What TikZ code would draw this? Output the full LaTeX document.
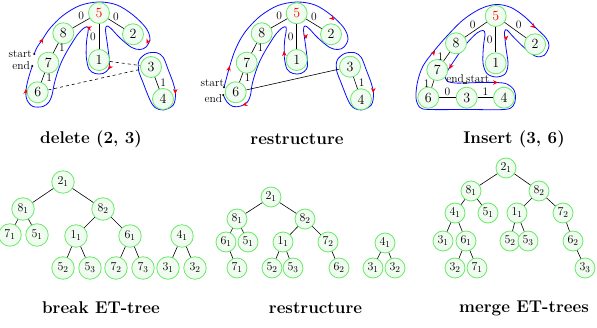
\documentclass[tikz,border=0pt]{standalone}
\usetikzlibrary{positioning}
\usetikzlibrary{arrows.meta}
\definecolor{ngreen}{RGB}{105,235,105}
\definecolor{nfill}{RGB}{240,252,240}
\definecolor{tourblue}{RGB}{10,10,255}
\tikzset{
    vnode/.style = {circle, draw=ngreen, line width=0.8pt, fill=nfill, minimum size=21pt, inner sep=0pt, font=\fontsize{14}{14}\selectfont, text=black},
    tnode/.style = {circle, draw=ngreen, line width=0.8pt, fill=nfill, minimum size=20pt, inner sep=0pt, font=\fontsize{12.5}{13}\selectfont, text=black},
    tnodel/.style = {tnode, minimum size=22.5pt},
    edgen/.style = {-, black, line width=0.6pt},
    edged/.style = {-, black, line width=0.6pt, dashed}, % removed
    elabel/.style = {inner sep=1pt, font=\fontsize{11.5}{12}\selectfont},
    slabel/.style = {inner sep=1pt, font=\fontsize{11.5}{12}\selectfont},
    tour/.style = {tourblue, line width=0.8pt, smooth, tension=0.55},
    tourtip/.style = {red, line width=0.6pt, -{Stealth[length=5pt, width=4.5pt]}},
    tdot/.style = {circle, fill=black, inner sep=0pt, minimum size=2.2pt},
    caption/.style = {font=\fontsize{17}{20}\selectfont\bfseries}
}
\begin{document}
\begin{tikzpicture}[x=1pt, y=-1pt]
\useasboundingbox (0,0) rectangle (597,328);
% delete (2, 3)
\draw[tour] plot coordinates {(34.3,54) (36.7,48) (42.7,39) (50,28.3) (63,15.5) (80,5.5) (99,2) (117,5) (133,15) (146,28) (150,39) (146,47) (140,49.5) (131.7,47.5) (120,38) (111,28.5) (107,26) (105.5,30) (107.5,45) (109.5,62) (108.5,69) (103,73.5) (95,73.5) (89,69) (86.3,57) (86.5,42) (88,32) (88,27) (84,28) (78,34) (72,43) (66,53) (61,63) (57,74) (54,85) (52,95) (49,102) (43,106.5) (33,106.5) (27,100) (25.8,92) (27.5,82) (30,73) (32.3,66)};
\draw[tour] plot[smooth cycle] coordinates {(139.3,60) (146.7,53.5) (156.7,52.7) (163.3,57.5) (168.3,70) (173.3,83.3) (175.5,94) (173.3,105) (163.3,110) (155,107.5) (150,100) (143.3,83.3) (138.5,70)};
\draw[tourtip] (42.7,39.3) -- ++(0.54,-0.84);
\draw[tourtip] (147,43) -- ++(-0.45,0.9);
\draw[tourtip] (109,68.5) -- ++(-0.6,0.8);
\draw[tourtip] (87.5,27.3) -- ++(-0.9,-0.3);
\draw[tourtip] (26,90) -- ++(0.1,-1);
\draw[tourtip] (175.3,93) -- ++(0,1);
\node[vnode] at (99.0, 13.0) (a5) {\textcolor{red}{5}};
\node[vnode] at (63.3, 33.3) (a8) {8};
\node[vnode] at (133.0, 34.3) (a2) {2};
\node[vnode] at (99.0, 60.0) (a1) {1};
\node[vnode] at (48.3, 62.7) (a7) {7};
\node[vnode] at (37.7, 92.3) (a6) {6};
\node[vnode] at (151.0, 67.0) (a3) {3};
\node[vnode] at (163.0, 99.0) (a4) {4};
\node[tdot] at (34.3, 54.0) (s1) {};
\node[tdot] at (32.3, 66.0) (e1) {};
\node[slabel, left=0pt of s1] (ls1) {start};
\node[slabel, left=0pt of e1] (le1) {end};
%
\draw[edgen] (a5) edge node[elabel, above=2pt] {0} (a8);
\draw[edgen] (a5) edge node[elabel, above=2pt] {0} (a2);
\draw[edgen] (a5) edge node[elabel, left=2pt] {0} (a1);
\draw[edgen] (a8) edge node[elabel, right=2pt] {1} (a7);
\draw[edgen] (a7) edge node[elabel, right=2pt] {1} (a6);
\draw[edgen] (a3) edge node[elabel, right=2pt] {1} (a4);
\draw[edged] (a1) edge node {} (a3);
\draw[edged] (a6) edge node {} (a3);
% restructure
\draw[tour] plot coordinates {(224,87.3) (226.5,78) (229.5,67) (234,53) (240,40) (248,28.3) (261,15.5) (278,5.5) (297,2) (315,5) (331,15) (344,28) (348,39) (344,47) (338,49.5) (329.7,47.5) (318,38) (309,28.5) (305,26) (303.5,30) (305.5,45) (307.5,62) (306.5,69) (301,73.5) (293,73.5) (287,69) (284.3,57) (284.5,42) (286,32) (286,27) (282,28) (276,34) (270,43) (264,53) (259,63) (255,74) (252,85) (250.5,95) (247.5,102) (241,106) (233,106.5) (227,102) (223.3,95)};
\draw[tour] plot[smooth cycle] coordinates {(337.3,60) (344.7,53.5) (354.7,52.7) (361.3,57.5) (366.3,70) (371.3,83.3) (373.5,94) (371.3,105) (361.3,110) (353,107.5) (348,100) (341.3,83.3) (336.5,70)};
\draw[tourtip] (229.5,67) -- ++(0.27,-0.96);
\draw[tourtip] (333.5,19.5) -- ++(0.7,0.7);
\draw[tourtip] (306,38) -- ++(0.1,1);
\draw[tourtip] (284.3,52) -- ++(0,-1);
\draw[tourtip] (243.5,104.8) -- ++(-1,0.25);
\draw[tourtip] (373.3,92) -- ++(0,1);
\node[vnode] at (296.7, 13.3) (b5) {\textcolor{red}{5}};
\node[vnode] at (261.7, 33.3) (b8) {8};
\node[vnode] at (331.0, 34.3) (b2) {2};
\node[vnode] at (296.7, 60.0) (b1) {1};
\node[vnode] at (246.7, 62.7) (b7) {7};
\node[vnode] at (235.7, 92.3) (b6) {6};
\node[vnode] at (350.0, 66.7) (b3) {3};
\node[vnode] at (361.0, 99.3) (b4) {4};
\node[tdot] at (224.0, 87.3) (s2) {};
\node[tdot] at (223.3, 95.0) (e2) {};
\node[slabel, above left=-1pt and -2pt of s2] (ls2) {start};
\node[slabel, below left=-3pt and -1pt of e2] (le2) {end};
%
\draw[edgen] (b5) edge node[elabel, above=2pt] {0} (b8);
\draw[edgen] (b5) edge node[elabel, above=2pt] {0} (b2);
\draw[edgen] (b5) edge node[elabel, left=2pt] {0} (b1);
\draw[edgen] (b8) edge node[elabel, right=2pt] {1} (b7);
\draw[edgen] (b7) edge node[elabel, right=2pt] {1} (b6);
\draw[edgen] (b3) edge node[elabel, right=2pt] {1} (b4);
\draw[edgen] (b6) edge node {} (b3);
% Insert (3, 6)
\draw[tour] plot coordinates {(466,83) (480,82.5) (496,82.5) (507,84) (514,90) (515.5,98) (513,106) (504,109.5) (467,109.5) (430,109.5) (420,107.5) (416,98) (417.5,82) (423,66) (434,51) (447,36) (463,20) (480,9) (496,4.5) (511,7.5) (525,17) (536,28) (546,38) (549,46) (544,55.5) (535,56) (523,46.5) (512,35.5) (507,30) (504.5,32) (506,48) (508,64) (505,74) (496,77) (487,73.5) (483,63) (483.5,46) (485,34) (483,30.5) (477,33) (467,43) (458,55) (450,67) (445.5,75) (447,81) (455,83) (464,83)};
\draw[tourtip] (497,82.5) -- ++(1,0);
\draw[tourtip] (434.5,51.5) -- ++(0.6,-0.8);
\draw[tourtip] (534.5,27.5) -- ++(0.7,0.7);
\draw[tourtip] (506.2,39.5) -- ++(0.05,1);
\draw[tourtip] (450,68) -- ++(-0.45,0.9);
\node[vnode] at (495.7, 16.0) (c5) {\textcolor{red}{5}};
\node[vnode] at (456.0, 43.3) (c8) {8};
\node[vnode] at (535.0, 44.3) (c2) {2};
\node[vnode] at (495.7, 63.3) (c1) {1};
\node[vnode] at (437.3, 70.0) (c7) {7};
\node[vnode] at (428.3, 97.7) (c6) {6};
\node[vnode] at (466.7, 97.7) (c3) {3};
\node[vnode] at (504.0, 97.7) (c4) {4};
\node[tdot] at (464.0, 83.0) (e3) {};
\node[tdot] at (466.0, 83.0) (s3) {};
\node[slabel, above left=-2pt and -2pt of e3] (le3) {end};
\node[slabel, above right=-2pt and -2pt of s3] (ls3) {start};
%
\draw[edgen] (c5) edge node[elabel, pos=0.65, above=2pt] {0} (c8);
\draw[edgen] (c5) edge node[elabel, pos=0.65, above=2pt] {0} (c2);
\draw[edgen] (c5) edge node[elabel, left=2pt] {0} (c1);
\draw[edgen] (c8) edge node[elabel, left=2pt] {1} (c7);
\draw[edgen] (c7) edge node[elabel, left=2pt] {1} (c6);
\draw[edgen] (c6) edge node[elabel, above=1pt] {0} (c3);
\draw[edgen] (c3) edge node[elabel, above=1pt] {1} (c4);
% break ET-tree
\node[tnodel] at (63.0, 182.0) (l21) {$2_1$};
\node[tnodel] at (23.0, 209.0) (l81) {$8_1$};
\node[tnodel] at (103.0, 209.0) (l82) {$8_2$};
\node[tnodel] at (10.0, 235.0) (l71) {$7_1$};
\node[tnodel] at (37.0, 235.0) (l51) {$5_1$};
\node[tnodel] at (76.0, 236.0) (l11) {$1_1$};
\node[tnodel] at (130.0, 236.0) (l61) {$6_1$};
\node[tnodel] at (63.0, 268.0) (l52) {$5_2$};
\node[tnodel] at (90.0, 268.0) (l53) {$5_3$};
\node[tnodel] at (116.0, 268.0) (l72) {$7_2$};
\node[tnodel] at (143.0, 268.0) (l73) {$7_3$};
\node[tnodel] at (182.0, 236.0) (l41) {$4_1$};
\node[tnodel] at (168.0, 268.0) (l31) {$3_1$};
\node[tnodel] at (195.0, 268.0) (l32) {$3_2$};
\draw[edgen] (l21) edge (l81) edge (l82);
\draw[edgen] (l81) edge (l71) edge (l51);
\draw[edgen] (l82) edge (l11) edge (l61);
\draw[edgen] (l11) edge (l52) edge (l53);
\draw[edgen] (l61) edge (l72) edge (l73);
\draw[edgen] (l41) edge (l31) edge (l32);
% restructure
\node[tnode] at (271.0, 197.0) (m21) {$2_1$};
\node[tnode] at (237.0, 219.0) (m81) {$8_1$};
\node[tnode] at (305.0, 219.0) (m82) {$8_2$};
\node[tnode] at (226.0, 242.0) (m61) {$6_1$};
\node[tnode] at (248.0, 242.0) (m51) {$5_1$};
\node[tnode] at (283.0, 242.0) (m11) {$1_1$};
\node[tnode] at (328.0, 242.0) (m72) {$7_2$};
\node[tnode] at (237.0, 268.0) (m71) {$7_1$};
\node[tnode] at (272.0, 268.0) (m52) {$5_2$};
\node[tnode] at (293.0, 268.0) (m53) {$5_3$};
\node[tnode] at (339.0, 268.0) (m62) {$6_2$};
\node[tnode] at (385.0, 243.0) (m41) {$4_1$};
\node[tnode] at (373.0, 268.0) (m31) {$3_1$};
\node[tnode] at (395.0, 268.0) (m32) {$3_2$};
\draw[edgen] (m21) edge (m81) edge (m82);
\draw[edgen] (m81) edge (m61) edge (m51);
\draw[edgen] (m61) edge (m71);
\draw[edgen] (m82) edge (m11) edge (m72);
\draw[edgen] (m11) edge (m52) edge (m53);
\draw[edgen] (m72) edge (m62);
\draw[edgen] (m41) edge (m31) edge (m32);
% merge ET-trees
\node[tnode] at (506.0, 168.0) (r21) {$2_1$};
\node[tnode] at (471.0, 191.0) (r81) {$8_1$};
\node[tnode] at (539.0, 191.0) (r82) {$8_2$};
\node[tnode] at (455.0, 213.0) (r41) {$4_1$};
\node[tnode] at (488.0, 213.0) (r51) {$5_1$};
\node[tnode] at (517.0, 213.0) (r11) {$1_1$};
\node[tnode] at (563.0, 213.0) (r72) {$7_2$};
\node[tnode] at (443.0, 241.0) (r31) {$3_1$};
\node[tnode] at (466.0, 241.0) (r61) {$6_1$};
\node[tnode] at (510.0, 241.0) (r52) {$5_2$};
\node[tnode] at (528.0, 241.0) (r53) {$5_3$};
\node[tnode] at (573.0, 241.0) (r62) {$6_2$};
\node[tnode] at (455.0, 268.0) (r32) {$3_2$};
\node[tnode] at (477.0, 268.0) (r71) {$7_1$};
\node[tnode] at (585.0, 268.0) (r33) {$3_3$};
\draw[edgen] (r21) edge (r81) edge (r82);
\draw[edgen] (r81) edge (r41) edge (r51);
\draw[edgen] (r41) edge (r31) edge (r61);
\draw[edgen] (r61) edge (r32) edge (r71);
\draw[edgen] (r82) edge (r11) edge (r72);
\draw[edgen] (r11) edge (r52) edge (r53);
\draw[edgen] (r72) edge (r62);
\draw[edgen] (r62) edge (r33);
% captions
\node[caption] at (91.0, 139.0) (cap1) {delete (2, 3)};
\node[caption] at (297.0, 139.0) (cap2) {restructure};
\node[caption] at (514.0, 139.0) (cap3) {Insert (3, 6)};
\node[caption] at (101.0, 308.0) (cap4) {break ET-tree};
\node[caption] at (315.5, 308.0) (cap5) {restructure};
\node[caption] at (524.0, 308.0) (cap6) {merge ET-trees};
\end{tikzpicture}
\end{document}
